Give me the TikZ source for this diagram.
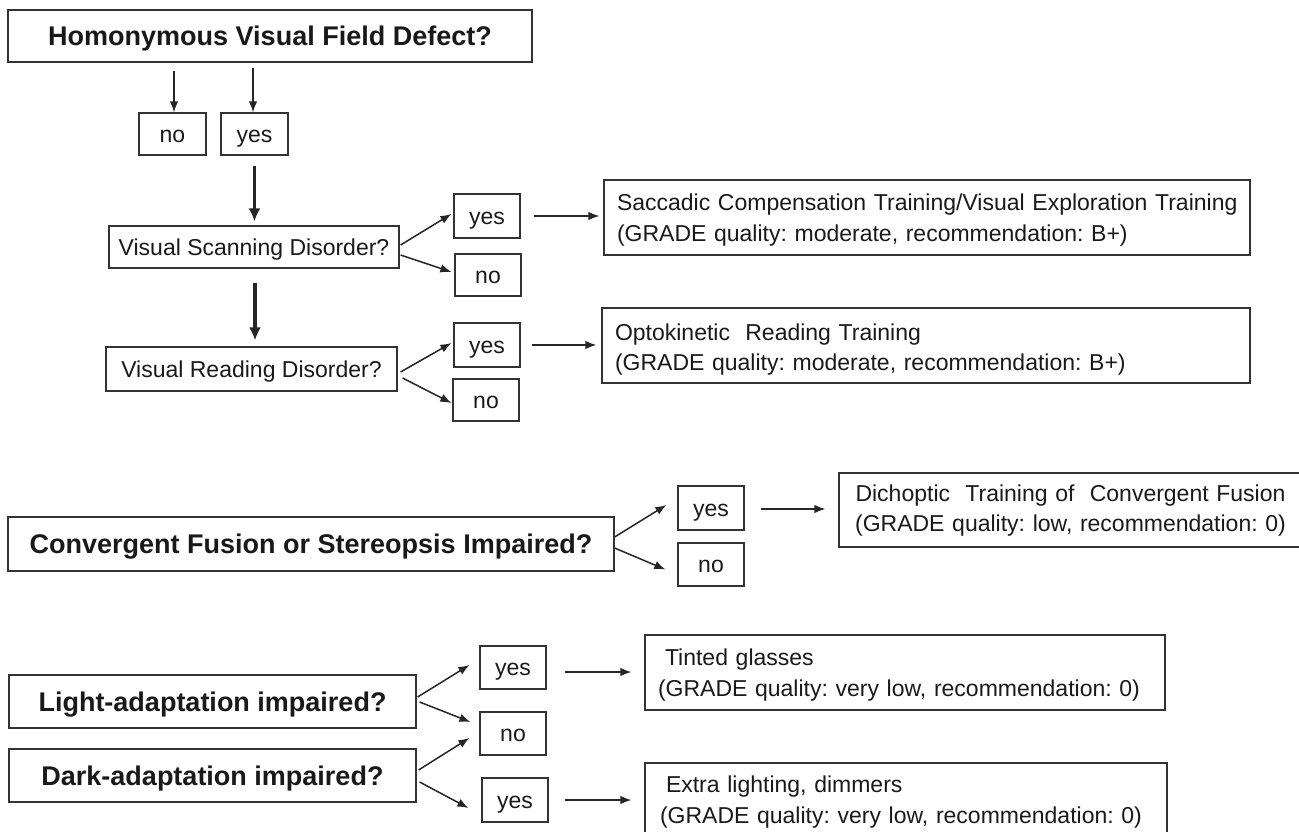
\documentclass[tikz,border=0pt]{standalone}
\usepackage{fontspec}
\setmainfont{Liberation Sans}
\usetikzlibrary{arrows.meta,calc}
\frenchspacing
\begin{document}
\begin{tikzpicture}[x=1pt,y=-1pt,
  box/.style={draw=black!80, line width=1.2pt, inner sep=0pt, text=black!90,
    font=\fontsize{23}{28}\selectfont},
  one/.style={box, text height=16.5pt, text depth=0pt},
  qbold/.style={box, text height=19.3pt, text depth=0pt, font=\bfseries\fontsize{27}{32}\selectfont},
  small/.style={one, minimum width=66pt, minimum height=43pt},
  result/.style={box, minimum height=75pt, align=left, text height=16pt},
  arr/.style={draw=black!85, line width=1.5pt, -{Latex[length=11pt,width=8.5pt]}},
  bigarr/.style={draw=black!85, line width=3.5pt, -{Latex[length=13pt,width=12pt]}}]
\useasboundingbox (0,0) rectangle (1299,832);

% top section
\node[qbold, minimum width=524pt, minimum height=52pt] (top) at (270,36) {Homonymous Visual Field Defect?};
\node[small, minimum width=67pt, minimum height=42pt] (no1) at (172.5,134) {no};
\node[small, minimum width=67pt, minimum height=42pt] (yes1) at (254.5,134) {yes};
\node[one, minimum width=290pt, minimum height=42pt] (vsd) at (254,247) {Visual Scanning Disorder?};
\node[small, minimum height=44pt] (yes2) at (487,216) {yes};
\node[small, minimum height=42pt] (no2) at (488,275) {no};
\node[result, text width=620pt, inner xsep=13pt, text depth=31pt, font=\fontsize{23}{31.7}\selectfont] (sacc) at (927,217.5)
  {\mbox{Saccadic Compensation Training/Visual Exploration Training}\\\mbox{(GRADE quality: moderate, recommendation: B+)}};
\node[one, minimum width=291pt, minimum height=44pt] (vrd) at (251.5,369) {Visual Reading Disorder?};
\node[small, minimum height=44pt] (yes3) at (487,345) {yes};
\node[small, minimum height=42pt] (no3) at (486,400) {no};
\node[result, text width=622pt, inner xsep=13pt, text depth=27pt, font=\fontsize{23}{30}\selectfont] (opto) at (926,345.5)
  {Optokinetic\ \ Reading Training\\(GRADE quality: moderate, recommendation: B+)};

% convergent fusion
\node[qbold, minimum width=606pt, minimum height=54pt] (conv) at (311,544) {Convergent Fusion or Stereopsis Impaired?};
\node[small, minimum height=44pt] (yes4) at (711,508) {yes};
\node[small, minimum height=43pt] (no4) at (711,564.5) {no};
\node[result, minimum height=74pt, text width=463pt, align=center, text depth=32.6pt, font=\fontsize{23}{30}\selectfont] (dich) at (1070.5,510)
  {Dichoptic\ \ Training of\ \ Convergent Fusion\\(GRADE quality: low, recommendation: 0)};

% adaptation
\node[qbold, minimum width=407pt, minimum height=53pt] (light) at (212.5,701.5) {Light-adaptation impaired?};
\node[qbold, minimum width=407pt, minimum height=53pt] (dark) at (212.5,775.5) {Dark-adaptation impaired?};
\node[small, minimum height=43pt] (yes5) at (513,667.5) {yes};
\node[small, minimum height=43pt] (no5) at (513,733.5) {no};
\node[small, minimum height=44pt] (yes6) at (515,800) {yes};
\node[result, text width=494pt, inner xsep=13pt, text depth=31pt, font=\fontsize{23}{31}\selectfont] (tint) at (905,672.5)
  {\hspace*{7pt}Tinted glasses\\(GRADE quality: very low, recommendation: 0)};
\node[result, minimum height=79pt, text width=492pt, inner xsep=15pt, text depth=37pt, font=\fontsize{23}{31}\selectfont] (extra) at (906,802.5)
  {\hspace*{6pt}Extra lighting, dimmers\\(GRADE quality: very low, recommendation: 0)};

% connectors: top section
\draw[arr] ($(no1.north |- top.south)+(1.5,8)$) -- ($(no1.north)+(1.5,0)$);
\draw[arr] ($(yes1.north |- top.south)+(-1.5,5)$) -- ($(yes1.north)+(-1.5,0)$);
\draw[bigarr] ($(yes1.south)+(0,10)$) -- ($(yes1.south |- vsd.north)+(0,-4)$);
\draw[bigarr] ($(vsd.south)+(1,14)$) -- ($(vsd.south |- vrd.north)+(1,-6)$);
\draw[arr] ($(vsd.east)+(1,-2)$) -- ($(yes2.west)+(-2,-2)$);
\draw[arr] ($(vsd.east)+(1,8)$) -- ($(no2.west)+(-3,-3)$);
\draw[arr] ($(yes2.east)+(13,0)$) -- ($(sacc.west |- yes2.east)+(-4,0)$);
\draw[arr] ($(vrd.east)+(3,3)$) -- ($(yes3.west)+(-2,-2)$);
\draw[arr] ($(vrd.east)+(5,9)$) -- ($(no3.west)+(-1,3)$);
\draw[arr] ($(yes3.east)+(11,0)$) -- ($(opto.west |- yes3.east)+(-5,0)$);

% convergent fusion
\draw[arr] ($(conv.east)+(0,-7)$) -- ($(yes4.west)+(-11,-3)$);
\draw[arr] ($(conv.east)+(0,4)$) -- ($(no4.west)+(-12,5)$);
\draw[arr] ($(yes4.east)+(16,1)$) -- ($(dich.west |- yes4.east)+(-13,1)$);

% adaptation
\draw[arr] ($(light.east)+(1,-4.5)$) -- ($(yes5.west)+(-10,-2.5)$);
\draw[arr] ($(light.east)+(3,0.5)$) -- ($(no5.west)+(-9,-11.5)$);
\draw[arr] ($(dark.east)+(2,-5.5)$) -- ($(no5.west)+(-10,4.5)$);
\draw[arr] ($(dark.east)+(3,6.5)$) -- ($(yes6.west)+(-13,8)$);
\draw[arr] ($(yes5.east |- tint.west)+(18,-0.5)$) -- ($(tint.west)+(-13,-0.5)$);
\draw[arr] ($(yes6.east)+(16,0)$) -- ($(extra.west |- yes6.east)+(-13,0)$);
\end{tikzpicture}
\end{document}
